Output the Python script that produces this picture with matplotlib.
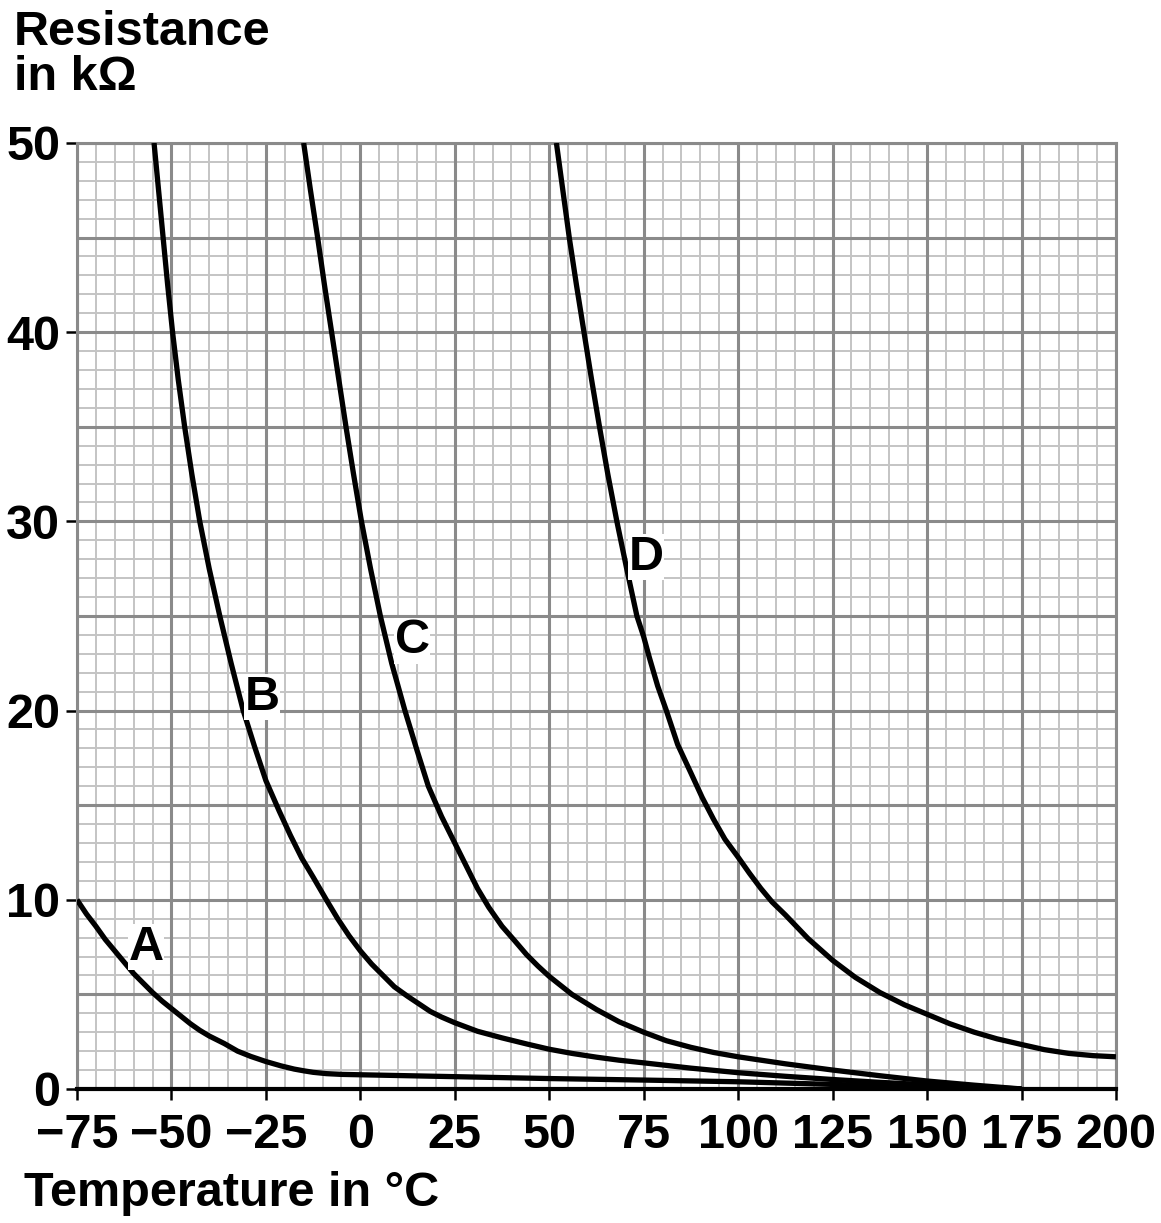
import matplotlib
matplotlib.use("Agg")
import matplotlib.pyplot as plt
import numpy as np

plt.rcParams['font.family'] = ['Liberation Sans', 'DejaVu Sans']
plt.rcParams['font.weight'] = 'bold'

# readings: temperature (°C) and resistance (kΩ)
temp_a = [-75, -72.5, -70, -67.5, -65, -62.5, -60, -57.5, -55, -52.5, -50, -47.5, -45, -42.5, -40, -36, -32.5, -29, -25,
          -21, -17.5, -15, -12.5, -9, -5, 0, 12.5, 25, 37.5, 50, 75, 100, 125, 150, 175]
res_a = [10, 9.25, 8.6, 7.9, 7.3, 6.7, 6.1, 5.6, 5.1, 4.65, 4.25, 3.85, 3.45, 3.1, 2.8, 2.4, 2.0, 1.72, 1.45,
         1.22, 1.05, 0.96, 0.88, 0.81, 0.77, 0.75, 0.7, 0.65, 0.6, 0.55, 0.47, 0.38, 0.24, 0.11, 0]

temp_b = [-54.6, -53.4, -52.2, -51, -49.7, -48.2, -46.5, -44.6, -42.5, -40, -37.2, -34.2, -31, -28, -25, -21.5, -18.5,
          -15.5, -12.5, -9, -6, -3, 0, 3, 6, 9, 12.5, 15.5, 18.5, 21.5, 25, 31, 37.5, 44, 50, 56, 62.5, 68.5, 75,
          87.5, 100, 112.5, 125, 137.5, 150, 162.5, 175]
res_b = [50, 47.5, 45, 42.5, 40, 37.5, 35, 32.5, 30, 27.5, 25, 22.5, 20, 18.1, 16.3, 14.7, 13.4,
         12.2, 11.2, 10.0, 9.0, 8.1, 7.3, 6.6, 6.0, 5.4, 4.9, 4.5, 4.1, 3.8, 3.5, 3.05, 2.7, 2.38, 2.1, 1.88, 1.68, 1.52, 1.38,
         1.1, 0.86, 0.67, 0.5, 0.35, 0.22, 0.1, 0]

temp_c = [-15, -13.2, -11.3, -9.5, -7.6, -5.7, -3.8, -1.8, 0.3, 2.7, 5.3, 8.3, 11.8, 15, 18, 21.5, 25, 28, 31, 34, 37.5,
          41, 44, 47, 50, 56, 62.5, 68.5, 75, 81, 87.5, 93.5, 100, 112.5, 125, 137.5, 150, 162.5, 175]
res_c = [50, 47.5, 45, 42.5, 40, 37.5, 35, 32.5, 30, 27.5, 25, 22.5, 20, 17.9, 16.0, 14.4, 13.0, 11.8, 10.6, 9.6, 8.6,
         7.8, 7.1, 6.5, 5.95, 5.0, 4.2, 3.55, 3.0, 2.55, 2.2, 1.93, 1.7, 1.33, 1.0, 0.7, 0.42, 0.2, 0]

temp_d = [51.9, 53.6, 55.3, 57.2, 59.2, 61.2, 63.3, 65.5, 67.9, 70.5, 73.2, 75, 76.5, 78.7, 81, 84, 87.5, 90.5, 93.5,
          96.5, 100, 103, 106, 109, 112.5, 118.5, 125, 131, 137.5, 144, 150, 156, 162.5, 168.5, 175, 181, 187.5, 194, 200]
res_d = [50, 47.5, 45, 42.5, 40, 37.5, 35, 32.5, 30, 27.5, 25, 23.9, 22.8, 21.3, 20, 18.2, 16.7, 15.4, 14.25,
         13.2, 12.25, 11.4, 10.6, 9.88, 9.2, 7.95, 6.8, 5.9, 5.1, 4.45, 3.95, 3.45, 3.0, 2.65, 2.35, 2.08, 1.88, 1.76, 1.7]

curve_labels = ['A', 'B', 'C', 'D']
label_pos = [(-56.7, 7.5), (-26.0, 20.7), (13.7, 23.7), (75.6, 28.1)]

x_ticks = np.arange(-75, 201, 25)
y_ticks = np.arange(0, 51, 10)

fs = 35

fig = plt.figure(figsize=(11.61, 12.23), dpi=100)
ax = fig.add_axes([0.0663, 0.1096, 0.8949, 0.7735])
ax.set_xlim(-75, 200)
ax.set_ylim(0, 50)

# graph paper
for x in np.arange(-75, 201, 5):
    major = x % 25 == 0
    ax.axvline(x, color='#8a8a8a' if major else '#c4c4c4', lw=2.2 if major else 1.4, zorder=1 if major else 0)
for y in np.arange(0, 51, 1):
    major = y % 5 == 0
    ax.axhline(y, color='#8a8a8a' if major else '#c4c4c4', lw=2.2 if major else 1.4, zorder=1 if major else 0)

for t, r in [(temp_a, res_a), (temp_b, res_b), (temp_c, res_c), (temp_d, res_d)]:
    ax.plot(t, r, color='black', lw=3.8, solid_capstyle='butt', solid_joinstyle='round', zorder=3)

for name, (x, y) in zip(curve_labels, label_pos):
    ax.text(x, y, name, fontsize=fs, fontweight='bold', ha='center', va='center', zorder=4,
            bbox=dict(facecolor='white', edgecolor='none', pad=0.5))

for side in ['top', 'right', 'left']:
    ax.spines[side].set_color('#8a8a8a')
    ax.spines[side].set_linewidth(2.2)
ax.spines['bottom'].set_color('black')
ax.spines['bottom'].set_linewidth(3)
ax.spines['bottom'].set_zorder(5)

ax.set_xticks(x_ticks)
ax.set_xticklabels([str(v).replace('-', '\u2212') for v in x_ticks])
ax.set_yticks(y_ticks)
ax.tick_params(axis='both', direction='out', length=8, width=1.8, color='black', labelsize=fs)
ax.tick_params(axis='x', pad=9)
ax.tick_params(axis='y', pad=4)
for lab in ax.get_xticklabels() + ax.get_yticklabels():
    lab.set_fontweight('bold')

fig.text(0.012, 0.992, 'Resistance\nin k\u03a9', fontsize=fs, fontweight='bold', ha='left', va='top', linespacing=1.0)
fig.text(0.021, 0.024, 'Temperature in \u00b0C', fontsize=fs, fontweight='bold', ha='left', va='center')

fig.savefig('out.png', dpi=100)
